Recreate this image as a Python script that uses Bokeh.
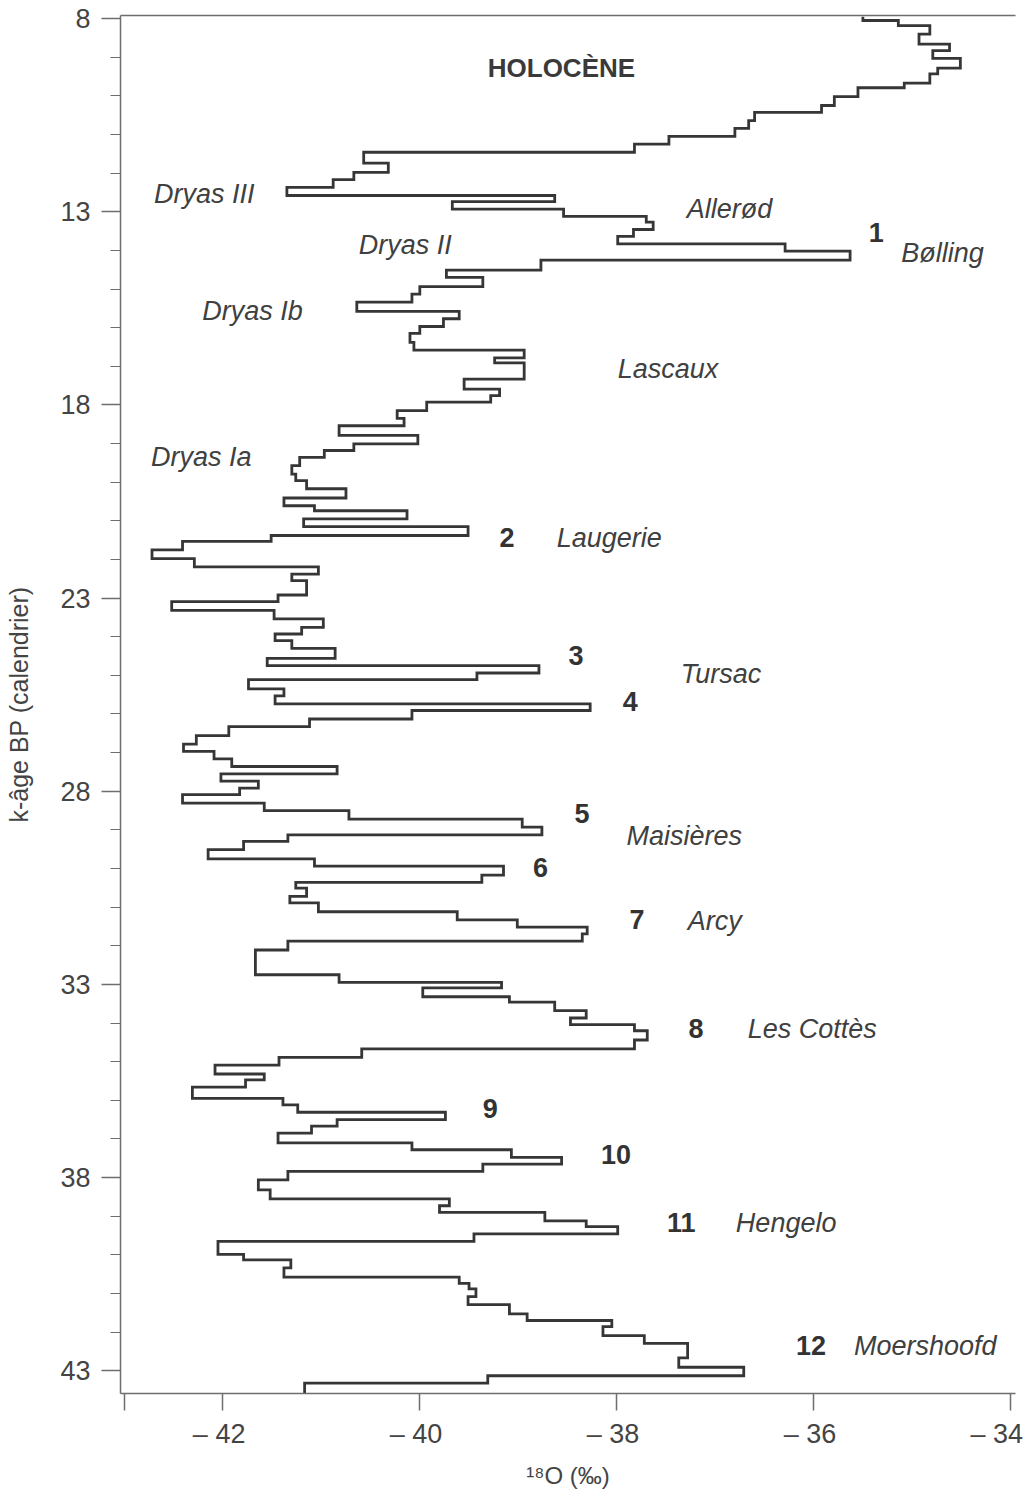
from bokeh.plotting import figure
from bokeh.models import FixedTicker, LinearAxis, Range1d
from bokeh.core.properties import value
from bokeh.embed import file_html
from bokeh.resources import INLINE

# Age boundaries (k-years BP, calendar) between successive samples
ages = [
    7.95, 8.05, 8.18, 8.40, 8.66, 8.83, 9.03, 9.28, 9.43, 9.67,
    9.79, 10.02, 10.25, 10.43, 10.64, 10.84, 11.05, 11.25, 11.46, 11.74,
    11.98, 12.17, 12.37, 12.58, 12.74, 12.93, 13.12, 13.27, 13.46, 13.64,
    13.83, 14.02, 14.25, 14.51, 14.70, 14.94, 15.13, 15.34, 15.58, 15.77,
    15.97, 16.15, 16.38, 16.58, 16.78, 16.91, 17.33, 17.59, 17.76, 17.93,
    18.15, 18.35, 18.54, 18.79, 19.01, 19.18, 19.36, 19.57, 19.79, 19.96,
    20.17, 20.41, 20.61, 20.74, 20.95, 21.15, 21.38, 21.53, 21.75, 21.98,
    22.19, 22.38, 22.55, 22.92, 23.09, 23.32, 23.54, 23.76, 23.93, 24.10,
    24.30, 24.56, 24.75, 24.94, 25.11, 25.35, 25.53, 25.74, 25.91, 26.13,
    26.33, 26.56, 26.78, 26.97, 27.16, 27.36, 27.55, 27.74, 27.92, 28.09,
    28.31, 28.50, 28.72, 28.93, 29.13, 29.30, 29.51, 29.75, 29.94, 30.17,
    30.36, 30.51, 30.72, 30.89, 31.12, 31.33, 31.52, 31.69, 31.88, 32.11,
    32.75, 32.95, 33.09, 33.32, 33.46, 33.68, 33.87, 34.04, 34.20, 34.44,
    34.67, 34.89, 35.09, 35.32, 35.47, 35.66, 35.95, 36.12, 36.31, 36.50,
    36.67, 36.85, 37.10, 37.28, 37.48, 37.65, 37.84, 38.06, 38.32, 38.55,
    38.73, 38.90, 39.12, 39.27, 39.46, 39.65, 39.99, 40.13, 40.34, 40.58,
    40.74, 40.88, 41.08, 41.29, 41.53, 41.70, 41.86, 42.09, 42.29, 42.67,
    42.91, 43.13, 43.32, 43.59,
]

# delta 18O values (per mil), each held between ages[i] and ages[i+1]
d18o = [
    -35.50, -35.14, -34.82, -34.93, -34.62, -34.79, -34.51, -34.74, -34.82, -35.08,
    -35.55, -35.79, -35.92, -36.60, -36.66, -36.80, -37.47, -37.82, -40.57, -40.32,
    -40.67, -40.88, -41.35, -38.63, -39.67, -38.54, -37.70, -37.63, -37.83, -37.99,
    -36.29, -35.63, -38.77, -39.73, -39.36, -40.00, -40.08, -40.64, -39.60, -39.76,
    -40.00, -40.10, -40.06, -38.94, -39.24, -38.94, -39.55, -39.19, -39.28, -39.93,
    -40.23, -40.16, -40.82, -40.02, -40.67, -40.97, -41.22, -41.30, -41.26, -41.15,
    -40.75, -41.38, -41.07, -40.13, -41.18, -39.51, -41.51, -42.41, -42.72, -42.29,
    -41.03, -41.30, -41.15, -41.44, -42.52, -41.48, -40.98, -41.20, -41.47, -41.30,
    -40.86, -41.55, -38.79, -39.42, -41.74, -41.38, -41.47, -38.27, -40.08, -41.12,
    -41.94, -42.27, -42.40, -42.09, -41.91, -40.84, -42.02, -41.64, -41.83, -42.41,
    -41.58, -40.72, -38.96, -38.76, -41.34, -41.79, -42.15, -41.07, -39.15, -39.37,
    -41.26, -41.15, -41.32, -41.03, -39.62, -39.01, -38.30, -38.35, -41.34, -41.67,
    -40.82, -39.17, -39.97, -39.09, -38.63, -38.31, -38.47, -37.82, -37.69, -37.82,
    -40.59, -41.43, -42.08, -41.58, -41.77, -42.31, -41.39, -41.24, -39.74, -40.84,
    -41.10, -41.44, -40.08, -39.07, -38.56, -39.36, -41.34, -41.64, -41.52, -39.70,
    -39.80, -38.73, -38.31, -37.99, -39.45, -42.05, -41.79, -41.31, -41.38, -39.60,
    -39.50, -39.43, -39.51, -39.09, -38.91, -38.05, -38.14, -37.72, -37.28, -37.37,
    -36.71, -39.31, -41.17,
]

y_ticks = [8, 13, 18, 23, 28, 33, 38, 43]
x_ticks = [-43, -42, -40, -38, -36, -34]
x_tick_labels = {-43: "", -42: "\u2013  42", -40: "\u2013  40", -38: "\u2013  38",
                 -36: "\u2013  36", -34: "\u2013  34"}

# Period names (italic) and interstadial numbers (bold)
names = ["Dryas III", "Allerød", "Bølling", "Dryas II", "Dryas Ib", "Lascaux",
         "Dryas Ia", "Laugerie", "Tursac", "Maisières", "Arcy", "Les Cottès",
         "Hengelo", "Moershoofd"]
names_x = [-42.70, -37.29, -35.11, -40.62, -42.21, -37.99, -42.73, -38.61,
           -37.35, -37.90, -37.28, -36.67, -36.79, -35.59]
names_y = [12.53, 12.92, 14.08, 13.85, 15.58, 17.06, 19.34, 21.44, 24.96,
           29.15, 31.35, 34.15, 39.17, 42.36]

numbers = ["1", "2", "3", "4", "5", "6", "7", "8", "9", "10", "11", "12"]
numbers_x = [-35.44, -39.19, -38.49, -37.94, -38.43, -38.85, -37.87, -37.27,
             -39.36, -38.16, -37.49, -36.18]
numbers_y = [13.54, 21.44, 24.49, 25.68, 28.58, 29.98, 31.32, 34.15, 36.22,
             37.41, 39.17, 42.36]

FONT = "Liberation Sans"
LINE = "#363636"
AXIS = "#6e6e6e"

p = figure(width=1030, height=1491,
           x_range=Range1d(-43.04, -33.95), y_range=Range1d(43.59, 7.92),
           output_backend="svg", toolbar_location=None,
           min_border_left=120, min_border_right=15, min_border_top=15,
           min_border_bottom=98)
p.xgrid.visible = False
p.ygrid.visible = False
p.outline_line_color = None
p.background_fill_color = "white"

# Step profile built from the sample values
xs, ys = [], []
for i, v in enumerate(d18o):
    xs += [v, v]
    ys += [ages[i], ages[i + 1]]
p.line(xs, ys, line_color=LINE, line_width=2.8, line_join="miter")

# Labels
p.text(x=names_x, y=names_y, text=names, text_font=value(FONT),
       text_font_size="27px", text_font_style="italic", text_baseline="middle",
       text_align="left", text_color="#404040")
p.text(x=numbers_x, y=numbers_y, text=numbers, text_font=value(FONT),
       text_font_size="27px", text_font_style="bold", text_baseline="middle",
       text_align="left", text_color="#333333")
p.text(x=[-39.31], y=[9.29], text=["HOLOCÈNE"], text_font=value(FONT),
       text_font_size="26px", text_font_style="bold", text_baseline="middle",
       text_align="left", text_color="#3a3a3a")

# X axis
xa = p.xaxis[0]
xa.ticker = FixedTicker(ticks=x_ticks, minor_ticks=[])
xa.major_label_overrides = x_tick_labels
xa.axis_label = "¹⁸O (‰)"
xa.axis_label_text_font = FONT
xa.axis_label_text_font_style = "normal"
xa.axis_label_text_font_size = "24px"
xa.axis_label_text_color = "#444444"
xa.axis_label_standoff = 10
xa.major_label_text_font = FONT
xa.major_label_text_font_size = "27px"
xa.major_label_text_color = "#444444"
xa.major_label_standoff = 8
xa.major_tick_out = 17
xa.major_tick_in = 0
xa.axis_line_color = AXIS
xa.axis_line_width = 1.5
xa.major_tick_line_color = AXIS
xa.major_tick_line_width = 1.5

# Y axis
ya = p.yaxis[0]
ya.ticker = FixedTicker(ticks=y_ticks, minor_ticks=list(range(8, 44)))
ya.axis_label = "k-âge BP (calendrier)"
ya.axis_label_text_font = FONT
ya.axis_label_text_font_style = "normal"
ya.axis_label_text_font_size = "25px"
ya.axis_label_text_color = "#444444"
ya.axis_label_standoff = 24
ya.major_label_text_font = FONT
ya.major_label_text_font_size = "27px"
ya.major_label_text_color = "#444444"
ya.major_label_standoff = 11
ya.major_tick_out = 19
ya.major_tick_in = 0
ya.minor_tick_out = 10
ya.minor_tick_in = 0
ya.axis_line_color = AXIS
ya.axis_line_width = 1.5
ya.major_tick_line_color = AXIS
ya.major_tick_line_width = 1.5
ya.minor_tick_line_color = AXIS
ya.minor_tick_line_width = 1.2

# Top border line
top = LinearAxis(ticker=FixedTicker(ticks=[]), major_label_text_font_size="0px",
                 major_tick_line_color=None, minor_tick_line_color=None,
                 axis_line_color=AXIS, axis_line_width=1.5)
p.add_layout(top, "above")

open("out.html", "w").write(file_html(p, INLINE))
